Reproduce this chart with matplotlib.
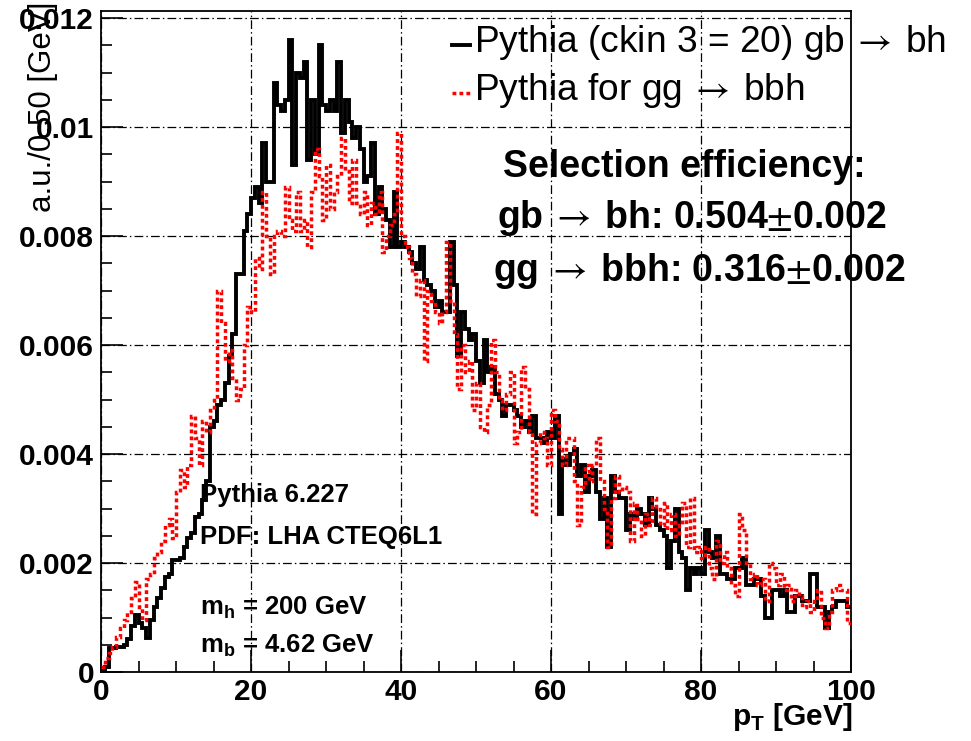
import numpy as np
import matplotlib
matplotlib.use("Agg")
import matplotlib.pyplot as plt
from matplotlib.lines import Line2D
from matplotlib.ticker import MultipleLocator

plt.rcParams['font.family'] = ['Liberation Sans', 'DejaVu Sans']
plt.rcParams['mathtext.fontset'] = 'custom'
plt.rcParams['mathtext.rm'] = 'STIXGeneral'
plt.rcParams['mathtext.bf'] = 'Liberation Sans:bold'

# pT bins of 0.50 GeV from 0 to 100 GeV
bin_edges = np.arange(0, 100.5, 0.5)

# bin contents, in units of 1e-4 (a.u. per 0.50 GeV)
# Pythia (ckin 3 = 20) gb -> bh
gb_bh = [
    0.3, 1.0, 4.4, 4.4, 4.5, 4.6, 5.0, 6.0, 8.5, 10.5,          # 0-5
    9.0, 8.0, 6.2, 9.5, 12.0, 13.5, 15.5, 17.5, 18.0, 20.5,     # 5-10
    20.5, 21.0, 23.0, 24.5, 25.5, 28.5, 29.0, 31.5, 35.0, 45.0, # 10-15
    46, 49, 50, 53, 58, 62, 73, 73, 81, 84,                     # 15-20
    87, 89, 86, 97, 90, 90, 108, 104, 103, 105,                 # 20-25
    116, 93, 110, 109, 112, 94, 105, 95, 115, 104,              # 25-30
    103, 105, 103, 112, 99, 105, 101, 98, 100, 96,              # 30-35
    90, 91, 97, 84, 89, 85, 83, 78, 88, 78,                     # 35-40
    79, 78, 77, 75, 74, 78, 72, 71, 70, 67,                     # 40-45
    68, 66, 66, 79, 71, 58, 66, 63, 61, 62,                     # 45-50
    57, 53, 61, 55, 56, 51, 50, 47, 49, 49,                     # 50-55
    48, 47, 45, 46, 44, 47, 43, 43, 42, 44,                     # 55-60
    43, 47, 29, 39, 38, 40, 41, 36, 38, 33,                     # 60-65
    36, 37, 33, 28, 32, 23, 36, 33, 32, 32,                     # 65-70
    26, 29, 28, 30, 29, 27, 32, 30, 27, 26,                     # 70-75
    25, 19, 24, 30, 22, 21, 15, 19, 18, 19,                     # 75-80
    18, 26, 22, 21, 25, 18, 18, 17, 17, 19,                     # 80-85
    19, 21, 16, 16, 17, 17, 14, 10, 10, 15,                     # 85-90
    15, 14, 15, 11, 11, 14, 14, 13, 13, 18,                     # 90-95
    18, 12, 12, 8, 11, 12, 13, 13, 13, 12,                      # 95-100
]

# Pythia for gg -> bbh
gg_bbh = [
    1.0, 2.5, 3.5, 4.5, 6.5, 8.0, 9.5, 11.0, 13.5, 16.5,        # 0-5
    12.0, 9.5, 17.0, 18.0, 21.0, 22.0, 24.0, 27.0, 28.0, 24.5,  # 5-10
    33, 37, 34, 38, 47, 43, 38, 46, 44, 48,                     # 10-15
    50, 70, 64, 57, 59, 54, 50, 52, 60, 67,                     # 15-20
    66, 76, 74, 88, 80, 73, 80, 81, 80, 89,                     # 20-25
    83, 81, 88, 81, 83, 78, 88, 96, 91, 83,                     # 25-30
    93, 85, 88, 91, 98, 92, 86, 94, 86, 84,                     # 30-35
    88, 82, 86, 84, 88, 77, 80, 82, 84, 99,                     # 35-40
    80, 78, 76, 73, 69, 72, 57, 70, 68, 66,                     # 40-45
    64, 66, 79, 68, 62, 52, 60, 55, 57, 48,                     # 45-50
    53, 45, 44, 49, 61, 55, 50, 48, 51, 55,                     # 50-55
    42, 44, 56, 52, 44, 29, 42, 44, 43, 38,                     # 55-60
    48, 46, 41, 38, 43, 43, 35, 27, 34, 38,                     # 60-65
    35, 38, 43, 35, 30, 23, 32, 36, 33, 34,                     # 65-70
    33, 24, 31, 28, 25, 29, 27, 32, 30, 27,                     # 70-75
    31, 26, 29, 25, 27, 31, 23, 32, 22, 23,                     # 75-80
    21, 23, 19, 17, 24, 20, 22, 19, 16, 14,                     # 80-85
    29, 26, 20, 17, 18, 16, 17, 13, 20, 19,                     # 85-90
    16, 18, 15, 16, 13, 15, 14, 12, 13, 11,                     # 90-95
    13, 15, 10, 8, 11, 15, 16, 15, 15, 9,                       # 95-100
]
unit = 1e-4

x_ticks = [0, 20, 40, 60, 80, 100]
x_tick_labels = ['0', '20', '40', '60', '80', '100']
y_ticks = [0, 0.002, 0.004, 0.006, 0.008, 0.010, 0.012]
y_tick_labels = ['0', '0.002', '0.004', '0.006', '0.008', '0.01', '0.012']

W, H = 971, 741
fig = plt.figure(figsize=(W / 100, H / 100), dpi=100)
ax = fig.add_axes([101 / W, 1 - 672 / H, 750 / W, 661 / H])

red_dash = (0, (1.1, 0.9))
ax.stairs(np.array(gb_bh) * unit, bin_edges, baseline=None,
          color='black', lw=2.8, zorder=3)
ax.stairs(np.array(gg_bbh) * unit, bin_edges, baseline=None,
          color='red', lw=2.5, linestyle=red_dash, zorder=4)

ax.set_xlim(0, 100)
ax.set_ylim(0, 0.01213)
ax.set_xticks(x_ticks)
ax.set_xticklabels(x_tick_labels, fontweight='bold')
ax.set_yticks(y_ticks)
ax.set_yticklabels(y_tick_labels, fontweight='bold')
ax.xaxis.set_minor_locator(MultipleLocator(5))
ax.yaxis.set_minor_locator(MultipleLocator(0.0005))
ax.tick_params(which='major', direction='in', length=16, width=1.2,
               labelsize=21.5, top=False, right=False)
ax.tick_params(axis='x', which='major', pad=4)
ax.tick_params(axis='y', which='major', pad=5)
ax.tick_params(which='minor', direction='in', length=8, width=1.2,
               top=False, right=False)
for s in ax.spines.values():
    s.set_linewidth(1.3)

ax.set_axisbelow(True)
ax.grid(True, which='major', color='black', lw=0.9,
        linestyle=(0, (7, 2.5, 1.2, 2.5)))

# axis titles
fig.text(43 / W, 1 - 2 / H, 'a.u./0.50 [GeV]', rotation=90,
         ha='center', va='top', fontsize=22.5)
fig.text(852 / W, 1 - 717 / H, r'p$_{\mathbf{T}}$ [GeV]',
         ha='right', va='center', fontsize=21.5, fontweight='bold')

# legend
fig.add_artist(Line2D([452 / W, 470 / W], [1 - 45 / H] * 2,
                      transform=fig.transFigure, color='black', lw=2.8))
fig.add_artist(Line2D([452 / W, 470 / W], [1 - 93 / H] * 2,
                      transform=fig.transFigure, color='red', lw=2.5,
                      linestyle=red_dash))
fig.text(474 / W, 1 - 43 / H,
         r'Pythia (ckin 3 = 20) gb$\,\rightarrow\,$bh',
         va='center', fontsize=26.7)
fig.text(474 / W, 1 - 90 / H, r'Pythia for gg$\,\rightarrow\,$bbh',
         va='center', fontsize=26.7)

# efficiencies
fig.text(503 / W, 1 - 167 / H, 'Selection efficiency:',
         va='center', fontsize=27, fontweight='bold')
fig.text(497 / W, 1 - 218 / H,
         r'gb$\,\rightarrow\,$bh: 0.504$\pm$0.002',
         va='center', fontsize=27, fontweight='bold')
fig.text(493 / W, 1 - 271 / H,
         r'gg$\,\rightarrow\,$bbh: 0.316$\pm$0.002',
         va='center', fontsize=27, fontweight='bold')

# generator info
fig.text(200 / W, 1 - 495 / H, 'Pythia 6.227', va='center',
         fontsize=18.5, fontweight='bold')
fig.text(200 / W, 1 - 537 / H, 'PDF: LHA CTEQ6L1', va='center',
         fontsize=18.5, fontweight='bold')
fig.text(200 / W, 1 - 608 / H, r'm$_{\mathbf{h}}$ = 200 GeV', va='center',
         fontsize=18.5, fontweight='bold')
fig.text(200 / W, 1 - 646 / H, r'm$_{\mathbf{b}}$ = 4.62 GeV', va='center',
         fontsize=18.5, fontweight='bold')

fig.savefig('out.png', dpi=100, facecolor='white')
